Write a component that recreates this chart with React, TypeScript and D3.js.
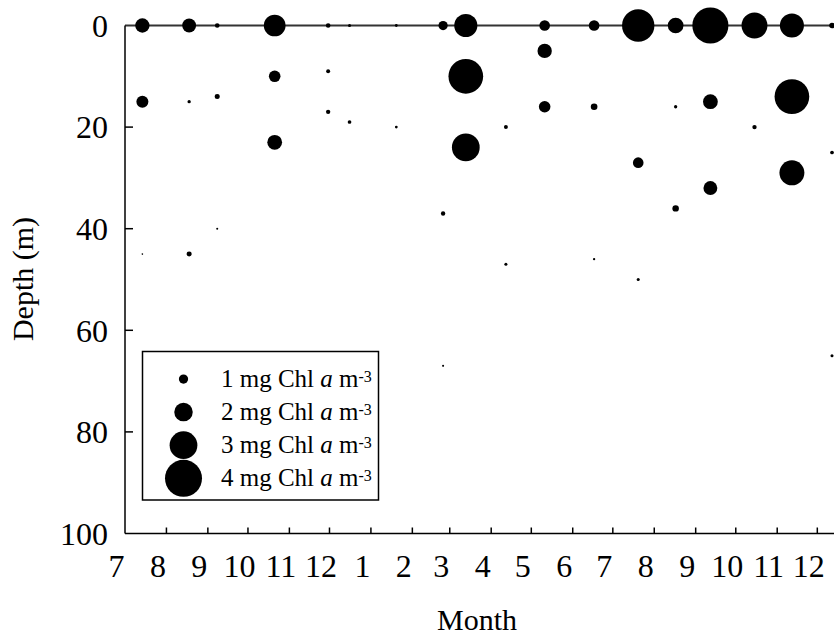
import React from "react";
import * as d3 from "d3";

// ---- data ----
const sampleDates = [
  "2002-07-14", "2002-08-18", "2002-09-08", "2002-10-21", "2002-11-30", "2002-12-16",
  "2003-01-20", "2003-02-24", "2003-03-13", "2003-04-12", "2003-05-11", "2003-06-17",
  "2003-07-20", "2003-08-17", "2003-09-12", "2003-10-15", "2003-11-12", "2003-12-12",
];
const sampleDepths = [
  [0, 15, 45], [0, 15, 45], [0, 14, 40], [0, 10, 23], [0, 9, 17], [0, 19],
  [0, 20], [0, 37, 67], [0, 10, 24], [20, 47], [0, 5, 16], [0, 16, 46],
  [0, 27, 50], [0, 16, 36], [0, 15, 32], [0, 20], [0, 14, 29], [0, 25, 65],
];
const sampleChl = [
  [1.55, 1.3, 0.18], [1.5, 0.36, 0.54], [0.5, 0.54, 0.22], [2.35, 1.25, 1.6], [0.5, 0.43, 0.47], [0.33, 0.4],
  [0.3, 0.3], [1.0, 0.47, 0.22], [2.5, 3.75, 3.0], [0.43, 0.33], [1.15, 1.55, 1.25], [1.15, 0.72, 0.25],
  [3.5, 1.15, 0.33], [1.7, 0.36, 0.7], [3.9, 1.6, 1.5], [2.8, 0.47], [2.6, 3.75, 2.7], [0.6, 0.4, 0.33],
];
const depthTicks = [0, 20, 40, 60, 80, 100];
const legendValues = [1, 2, 3, 4];
const xStart = "2002-07-01";
const xEnd = "2004-01-01";

const FONT = "'Liberation Serif', 'Times New Roman', Times, serif";

export default function App() {
  const W = 834;
  const H = 639;
  const parse = d3.utcParse("%Y-%m-%d");
  const x0 = parse(xStart)!;
  const x1 = parse(xEnd)!;
  const left = 125;
  const pxPerDay = 1.3365;
  const days = (x1.getTime() - x0.getTime()) / 86400000;
  const x = d3.scaleUtc().domain([x0, x1]).range([left, left + days * pxPerDay]);
  const y = d3.scaleLinear().domain([0, 100]).range([25.5, 533.5]);
  const r = d3.scaleLinear().domain([0, 4]).range([0, 18.5]);

  const months = d3.utcMonth.range(x0, x1);

  const points: { cx: number; cy: number; rr: number; key: string }[] = [];
  sampleDates.forEach((ds, i) => {
    const dt = parse(ds)!;
    sampleDepths[i].forEach((dp, j) => {
      points.push({ cx: x(dt), cy: y(dp), rr: r(sampleChl[i][j]), key: `${i}-${j}` });
    });
  });

  const legendY = d3.scaleLinear().domain([1, 4]).range([379, 478.3]);

  return (
    <svg
      width={W}
      height={H}
      style={{ position: "absolute", left: 0, top: 0, display: "block", background: "#fff" }}
      fontFamily={FONT}
    >
      {/* depth-0 line */}
      <line x1={left} x2={x.range()[1]} y1={y(0)} y2={y(0)} stroke="#333" strokeWidth={1.8} />
      {/* axes */}
      <line x1={left} x2={left} y1={y(0)} y2={y(100)} stroke="#000" strokeWidth={1.5} />
      <line x1={left} x2={x.range()[1]} y1={y(100)} y2={y(100)} stroke="#000" strokeWidth={1.5} />

      {/* y ticks */}
      {depthTicks.map((t) => (
        <g key={"y" + t}>
          {t > 0 && t < 100 && (
            <line x1={left} x2={left + 8} y1={y(t)} y2={y(t)} stroke="#000" strokeWidth={1.5} />
          )}
          <text x={108} y={y(t)} dy="0.35em" textAnchor="end" fontSize={32} fill="#000">
            {t}
          </text>
        </g>
      ))}

      {/* x ticks */}
      {months.map((m, i) => (
        <g key={"x" + i}>
          {i > 0 && (
            <line x1={x(m)} x2={x(m)} y1={y(100)} y2={y(100) - 6} stroke="#000" strokeWidth={1.5} />
          )}
          <text x={x(m) - 8.5} y={577} textAnchor="middle" fontSize={32} fill="#000">
            {m.getUTCMonth() + 1}
          </text>
        </g>
      ))}

      {/* axis titles */}
      <text x={477} y={630} textAnchor="middle" fontSize={30} fill="#000">
        Month
      </text>
      <text
        transform={`translate(33,279) rotate(-90)`}
        textAnchor="middle"
        fontSize={30}
        fill="#000"
      >
        Depth (m)
      </text>

      {/* bubbles */}
      {points.map((p) => (
        <circle key={p.key} cx={p.cx} cy={p.cy} r={p.rr} fill="#000" />
      ))}

      {/* legend */}
      <rect x={142.5} y={351.5} width={236} height={148.5} fill="#fff" stroke="#000" strokeWidth={1.5} />
      {legendValues.map((v) => (
        <g key={"l" + v}>
          <circle cx={183.5} cy={legendY(v)} r={r(v)} fill="#000" />
          <text x={221} y={legendY(v) + 7.5} fontSize={25} fill="#000">
            <tspan>{`${v} mg Chl `}</tspan>
            <tspan fontStyle="italic">a</tspan>
            <tspan>{" m"}</tspan>
            <tspan fontSize={16} dy={-5}>-3</tspan>
          </text>
        </g>
      ))}
    </svg>
  );
}
